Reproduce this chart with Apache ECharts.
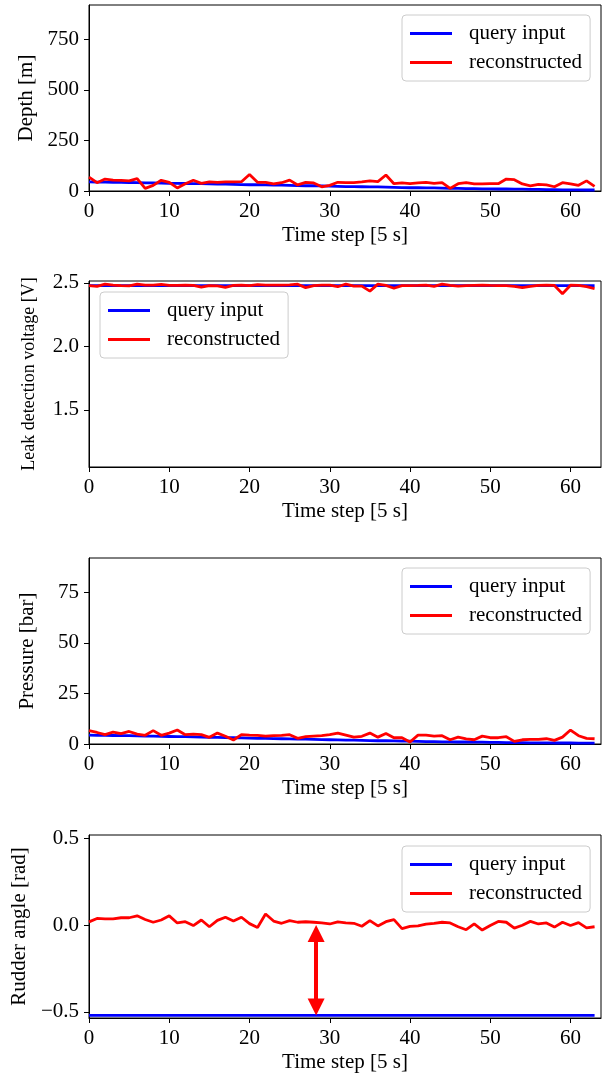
<!DOCTYPE html>
<html>
<head>
<meta charset="utf-8">
<script src="https://cdn.jsdelivr.net/npm/echarts@6/dist/echarts.min.js"></script>
<style>html,body{margin:0;padding:0;background:#fff}#c{width:607px;height:1074px}</style>
</head>
<body>
<div id="c"></div>
<script>
const timeSteps = [0,1,2,3,4,5,6,7,8,9,10,11,12,13,14,15,16,17,18,19,20,21,22,23,24,25,26,27,28,29,30,31,32,33,34,35,36,37,38,39,40,41,42,43,44,45,46,47,48,49,50,51,52,53,54,55,56,57,58,59,60,61,62,63];
const xTicks = [0,10,20,30,40,50,60];

const depthQuery = [45,44,44,43,43,42,41,40,40,39,38,38,37,36,36,35,34,34,33,32,31,31,30,29,29,28,27,26,26,25,24,23,22,22,21,20,20,19,18,17,16,16,15,15,14,13,13,12,12,11,11,10,10,9,9,8,8,7,7,6,6,6,5,5];
const depthRecon = [69,41,59,54,53,50,61,13,28,53,43,15,36,53,38,45,43,45,45,46,82,43,43,35,41,54,30,43,40,21,28,43,41,41,45,50,46,79,36,40,36,40,43,38,41,13,36,41,35,35,36,36,59,56,35,25,33,30,21,41,35,28,50,23];
const depthTicks = [0,250,500,750];

const leakQuery = [2.478,2.478,2.478,2.478,2.478,2.478,2.478,2.478,2.478,2.478,2.478,2.478,2.478,2.478,2.478,2.478,2.478,2.478,2.478,2.478,2.478,2.478,2.478,2.478,2.478,2.478,2.478,2.478,2.478,2.478,2.478,2.478,2.478,2.478,2.478,2.478,2.478,2.478,2.478,2.478,2.478,2.478,2.478,2.478,2.478,2.478,2.478,2.478,2.478,2.478,2.478,2.478,2.478,2.478,2.478,2.478,2.478,2.478,2.478,2.478,2.478,2.478,2.478,2.478];
const leakRecon = [2.478,2.472,2.49,2.482,2.478,2.476,2.49,2.483,2.482,2.488,2.48,2.481,2.482,2.48,2.466,2.478,2.476,2.465,2.48,2.482,2.478,2.487,2.482,2.483,2.482,2.485,2.49,2.463,2.478,2.482,2.483,2.47,2.49,2.474,2.475,2.435,2.49,2.48,2.458,2.478,2.479,2.48,2.482,2.473,2.49,2.48,2.475,2.478,2.48,2.482,2.48,2.479,2.478,2.472,2.462,2.472,2.48,2.482,2.48,2.415,2.482,2.48,2.47,2.455];
const leakTicks = [1.5,2.0,2.5];

const pressQuery = [4.4,4.3,4.3,4.2,4.1,4.1,4.0,3.9,3.9,3.8,3.7,3.6,3.6,3.5,3.4,3.3,3.3,3.2,3.1,3.0,2.9,2.8,2.8,2.7,2.6,2.5,2.4,2.4,2.3,2.2,2.1,2.0,1.9,1.9,1.8,1.7,1.6,1.6,1.5,1.4,1.4,1.3,1.2,1.2,1.1,1.1,1.0,1.0,0.9,0.9,0.8,0.8,0.7,0.7,0.7,0.6,0.6,0.6,0.5,0.5,0.5,0.4,0.4,0.4];
const pressRecon = [6.6,5.7,4.6,5.9,5.1,6.2,4.9,4.3,6.6,4.3,5.4,6.9,4.6,4.9,4.6,3.3,5.4,3.8,2.0,4.6,4.4,4.3,3.9,4.1,4.3,4.6,2.8,3.6,3.9,4.1,4.6,5.4,4.4,3.4,3.8,5.4,3.4,5.2,3.1,3.1,1.0,4.4,4.4,3.9,4.1,2.1,3.4,2.5,2.1,3.9,3.1,3.1,3.6,1.3,2.1,2.3,2.3,2.6,1.8,3.4,6.9,4.1,2.8,2.6];
const pressTicks = [0,25,50,75];

const rudderQuery = [-0.52,-0.52,-0.52,-0.52,-0.52,-0.52,-0.52,-0.52,-0.52,-0.52,-0.52,-0.52,-0.52,-0.52,-0.52,-0.52,-0.52,-0.52,-0.52,-0.52,-0.52,-0.52,-0.52,-0.52,-0.52,-0.52,-0.52,-0.52,-0.52,-0.52,-0.52,-0.52,-0.52,-0.52,-0.52,-0.52,-0.52,-0.52,-0.52,-0.52,-0.52,-0.52,-0.52,-0.52,-0.52,-0.52,-0.52,-0.52,-0.52,-0.52,-0.52,-0.52,-0.52,-0.52,-0.52,-0.52,-0.52,-0.52,-0.52,-0.52,-0.52,-0.52,-0.52,-0.52];
const rudderRecon = [0.019,0.039,0.037,0.037,0.043,0.043,0.054,0.033,0.017,0.030,0.054,0.013,0.020,-0.002,0.030,-0.009,0.028,0.046,0.024,0.046,0.009,-0.013,0.065,0.024,0.011,0.026,0.017,0.020,0.017,0.013,0.007,0.019,0.013,0.011,-0.006,0.026,-0.004,0.020,0.032,-0.020,-0.007,-0.004,0.006,0.011,0.017,0.013,-0.009,-0.026,0.007,-0.028,-0.002,0.022,0.017,-0.017,0.000,0.022,0.007,0.013,-0.011,0.017,-0.002,0.015,-0.015,-0.009];
const rudderTicks = [-0.5,0.0,0.5];

const arrowX = 28.3;
const arrowTop = 0.0;
const arrowBottom = -0.52;

const seriesNames = ['query input','reconstructed'];
const xName = 'Time step [5 s]';
const yNames = ['Depth [m]','Leak detection voltage [V]','Pressure [bar]','Rudder angle [rad]'];

const FONT = "'Liberation Serif','Times New Roman',serif";
const FS = 21;
const BLUE = '#0000ff', RED = '#ff0000';
const HEAD = 17;
const LW = 2.8;

const panels = [
  {top:5,   height:186, min:0,     max:920,   ticks:depthTicks,  q:depthQuery,  r:depthRecon,  dec:0, nameFS:21, legend:{left:402, top:15}},
  {top:281, height:186, min:1.05,  max:2.515, ticks:leakTicks,   q:leakQuery,   r:leakRecon,   dec:1, nameFS:18, legend:{left:100, top:292}},
  {top:558, height:186, min:0,     max:92,    ticks:pressTicks,  q:pressQuery,  r:pressRecon,  dec:0, nameFS:21, legend:{left:402, top:568}},
  {top:835, height:188, min:-0.535,max:0.52,  ticks:rudderTicks, q:rudderQuery, r:rudderRecon, dec:1, nameFS:21, legend:{left:402, top:846}}
];

const pairs = (ys) => timeSteps.map((t, i) => [t, ys[i]]);
const fmt = (dec) => (v) => Number(v).toFixed(dec).replace('-', '\u2212');

const grid = [], xAxis = [], yAxis = [], series = [], legend = [];
panels.forEach((p, k) => {
  grid.push({left:89, width:512, top:p.top, height:p.height, show:true, borderColor:'#000', borderWidth:1, backgroundColor:'transparent'});
  xAxis.push({
    type:'value', gridIndex:k, min:0, max:63.8,
    name:xName, nameLocation:'middle', nameGap:34,
    nameTextStyle:{fontFamily:FONT, fontSize:FS, color:'#000'},
    axisLine:{onZero:false, lineStyle:{color:'#000', width:1}},
    axisTick:{show:true, length:5, lineStyle:{color:'#000', width:1}, customValues:xTicks},
    axisLabel:{fontFamily:FONT, fontSize:FS, color:'#000', margin:10, customValues:xTicks, formatter:(v)=>String(v)},
    splitLine:{show:false}
  });
  yAxis.push({
    type:'value', gridIndex:k, min:p.min, max:p.max,
    name:yNames[k], nameLocation:'middle', nameGap:51,
    nameTextStyle:{fontFamily:FONT, fontSize:p.nameFS, color:'#000'},
    axisLine:{show:true, onZero:false, lineStyle:{color:'#000', width:1}},
    axisTick:{show:true, length:5, lineStyle:{color:'#000', width:1}, customValues:p.ticks},
    axisLabel:{fontFamily:FONT, fontSize:FS, color:'#000', margin:10, customValues:p.ticks, formatter:fmt(p.dec)},
    splitLine:{show:false}
  });
  series.push({
    name:seriesNames[0], type:'line', xAxisIndex:k, yAxisIndex:k, data:pairs(p.q),
    symbol:'none', lineStyle:{color:BLUE, width:LW}, itemStyle:{color:BLUE}, animation:false, z:2
  });
  const red = {
    name:seriesNames[1], type:'line', xAxisIndex:k, yAxisIndex:k, data:pairs(p.r),
    symbol:'none', lineStyle:{color:RED, width:LW}, itemStyle:{color:RED}, animation:false, z:3
  };
  if (k === 3) {
    // pull the end points in by half a head so the tips land on the two values
    const half = (HEAD / 2) * (p.max - p.min) / p.height;
    red.markLine = {
      silent:true, animation:false,
      symbol:['triangle','triangle'], symbolSize:[HEAD, HEAD],
      lineStyle:{color:RED, width:4, type:'solid'},
      itemStyle:{color:RED},
      label:{show:false}, emphasis:{disabled:true},
      data:[[{coord:[arrowX, arrowTop - half]}, {coord:[arrowX, arrowBottom + half]}]]
    };
  }
  series.push(red);
  legend.push({
    left:p.legend.left, top:p.legend.top, orient:'vertical',
    data:seriesNames.map(n => ({name:n, icon:'rect'})), selectedMode:false,
    itemWidth:42, itemHeight:3, itemGap:8,
    padding:[8,8,8,8],
    backgroundColor:'rgba(255,255,255,0.8)', borderColor:'#cccccc', borderWidth:1, borderRadius:4,
    textStyle:{fontFamily:FONT, fontSize:FS, color:'#000', padding:[0,0,0,12]}
  });
});

const chart = echarts.init(document.getElementById('c'), null, {renderer:'canvas'});
chart.setOption({animation:false, backgroundColor:'#fff', grid, xAxis, yAxis, series, legend});
</script>
</body>
</html>
